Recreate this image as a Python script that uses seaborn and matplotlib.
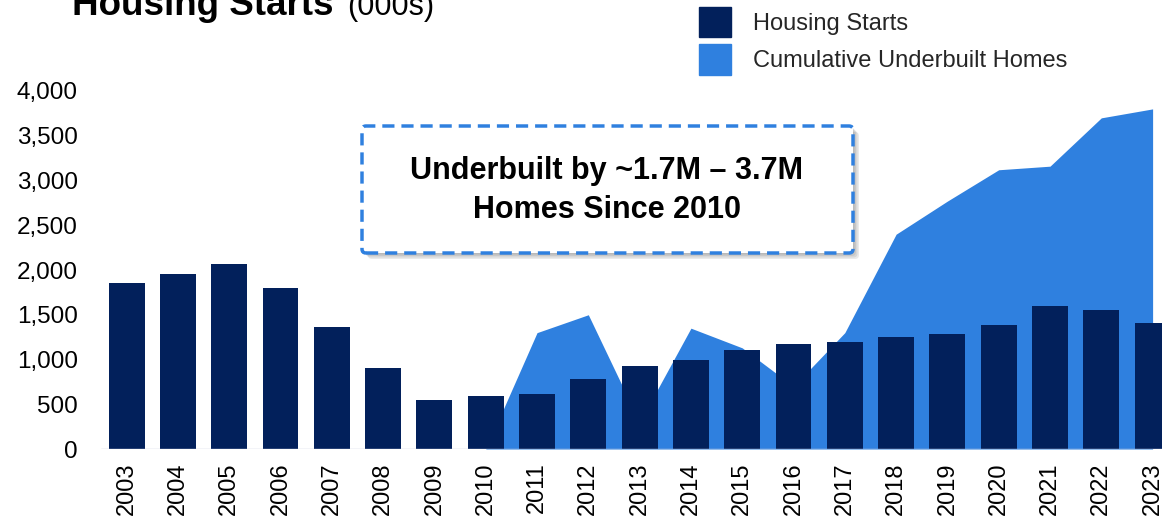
import numpy as np
import matplotlib
matplotlib.use("Agg")
import matplotlib.pyplot as plt
from matplotlib.patches import Patch, FancyBboxPatch
import seaborn as sns

# data (thousands of units)
years = ['2003', '2004', '2005', '2006', '2007', '2008', '2009', '2010', '2011', '2012', '2013',
         '2014', '2015', '2016', '2017', '2018', '2019', '2020', '2021', '2022', '2023']
housing_starts = [1850, 1960, 2070, 1800, 1360, 900, 550, 590, 610, 780, 930,
                  1000, 1110, 1170, 1200, 1250, 1290, 1380, 1600, 1555, 1410]
underbuilt_years = ['2010', '2011', '2012', '2013', '2014', '2015', '2016',
                    '2017', '2018', '2019', '2020', '2021', '2022', '2023']
underbuilt = [0, 1300, 1500, 300, 1350, 1130, 700, 1300, 2400, 2770, 3120, 3160, 3700, 3800]
y_ticks = [0, 500, 1000, 1500, 2000, 2500, 3000, 3500, 4000]

NAVY = '#02205b'
BLUE = '#2f80df'

sns.set_theme(style='white')
plt.rcParams['font.family'] = ['Liberation Sans', 'DejaVu Sans']

W, H = 1162, 520
fig = plt.figure(figsize=(W / 100, H / 100), dpi=100)
ax = fig.add_axes([101 / W, 71 / H, 1067 / W, 358 / H])

# cumulative underbuilt area behind the bars
pos = [years.index(y) for y in underbuilt_years]
ax.fill_between(pos, underbuilt, color=BLUE, lw=0, zorder=0.5)

sns.barplot(x=years, y=housing_starts, color=NAVY, saturation=1, width=0.7,
            linewidth=0, edgecolor=NAVY, ax=ax, zorder=2)

ax.axhline(0, color='#c5cbe0', lw=1, zorder=3)
ax.set_xlim(-0.5, 20.3)
ax.set_ylim(0, 4000)
ax.set_yticks(y_ticks)
ax.set_yticklabels([f'{v:,}' for v in y_ticks])
ax.set_xlabel('')
ax.set_ylabel('')
ax.tick_params(axis='y', length=0, pad=16.6, labelsize=17.5, labelcolor='black')
ax.tick_params(axis='x', length=0, pad=9.4, labelsize=17, labelcolor='black', rotation=90)
sns.despine(ax=ax, left=True, bottom=True)

# title (cropped at the top in the reference)
fig.text(72 / W, 505 / H, 'Housing Starts', fontsize=26.5, fontweight='bold',
         va='baseline', color='black')
fig.text(347 / W, 505 / H, '(000s)', fontsize=22, va='baseline', color='black')

# legend
handles = [Patch(color=NAVY, label='Housing Starts'),
           Patch(color=BLUE, label='Cumulative Underbuilt Homes')]
fig.legend(handles=handles, loc='upper left', bbox_to_anchor=(699 / W, 1 - 7 / H),
           frameon=False, fontsize=17, handlelength=1.36, handleheight=1.6,
           handletextpad=0.93, labelspacing=0.3, borderpad=0, borderaxespad=0)

# annotation box with soft shadow
bx, by, bw, bh = 3.62, 2.67, 4.91, 1.27
for k in range(1, 5):
    sh = FancyBboxPatch((bx + 0.015 * k, by - 0.015 * k), bw, bh,
                        boxstyle='round,pad=0,rounding_size=0.04',
                        transform=fig.dpi_scale_trans, facecolor='#555555',
                        edgecolor='none', alpha=0.12, zorder=4)
    fig.patches.append(sh)
box = FancyBboxPatch((bx, by), bw, bh, boxstyle='round,pad=0,rounding_size=0.04',
                     transform=fig.dpi_scale_trans, facecolor='white',
                     edgecolor=BLUE, lw=2.5, linestyle=(0, (3.5, 2)), zorder=5)
fig.patches.append(box)
fig.text(607 / W, (H - 190.5) / H, 'Underbuilt by ~1.7M \u2013 3.7M\nHomes Since 2010',
         ha='center', va='center', fontsize=22, fontweight='bold',
         linespacing=1.35, color='black', zorder=6)

fig.savefig('out.png', dpi=100)
